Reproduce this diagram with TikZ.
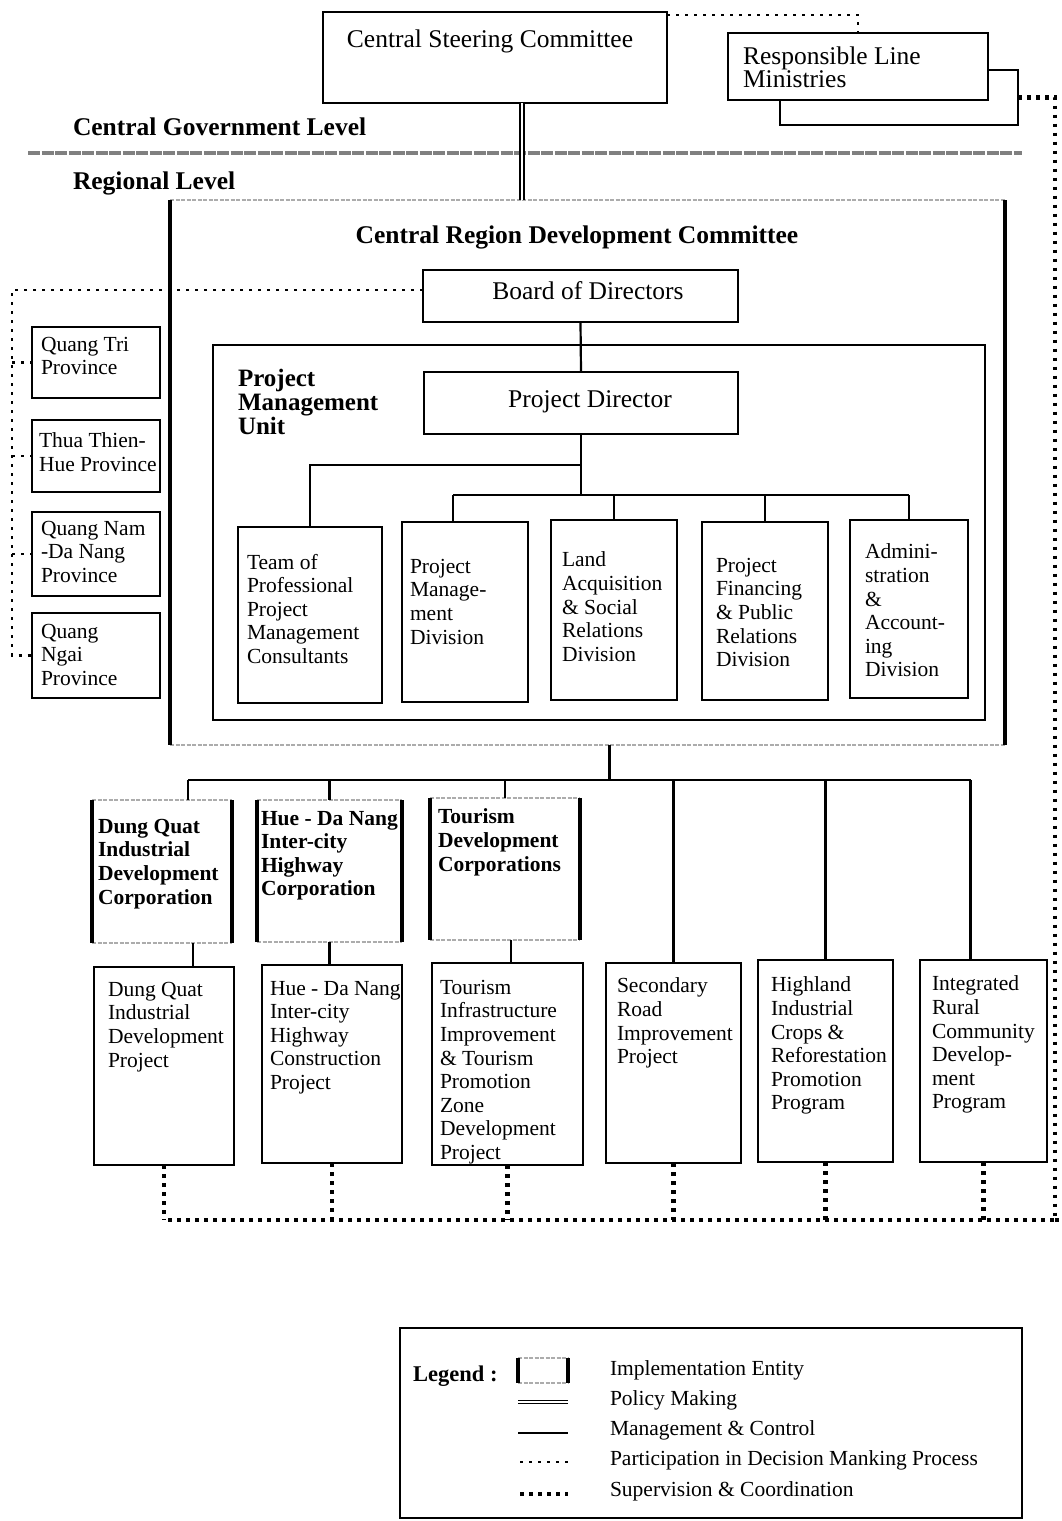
\documentclass[tikz,border=0pt]{standalone}
\usepackage{fontspec}
\setmainfont{Liberation Serif}
\newcommand{\ieframe}[1]{%
  \draw[ieedge] (#1.north west) -- (#1.north east) (#1.south west) -- (#1.south east);%
  \draw[ieside] (#1.north west) -- (#1.south west) (#1.north east) -- (#1.south east);}
\tikzset{
  boxs/.style={draw, line width=1.9pt, inner sep=0pt, outer sep=0pt, fill=white, anchor=north west},
  iebox/.style={inner sep=0pt, outer sep=0pt, anchor=north west},
  txt/.style={inner sep=0pt, outer sep=0pt, align=left, anchor=north west, font=\fontsize{21.5}{23.6}\selectfont},
  btxt/.style={inner sep=0pt, outer sep=0pt, align=left, anchor=north west, font=\fontsize{21.5}{23.6}\selectfont\bfseries},
  ltxt/.style={inner sep=0pt, outer sep=0pt, anchor=west, font=\fontsize{21.5}{24}\selectfont},
  hd/.style={inner sep=0pt, outer sep=0pt, font=\fontsize{25.5}{28}\selectfont},
  bhd/.style={inner sep=0pt, outer sep=0pt, font=\fontsize{25.5}{28}\selectfont\bfseries},
  mgmt/.style={line width=2.2pt},
  policy/.style={double, line width=1.6pt, double distance=2.5pt},
  partic/.style={line width=2.6pt, dash pattern=on 3pt off 6pt},
  superv/.style={line width=4.5pt, dash pattern=on 3.5pt off 5.5pt},
  ieside/.style={line width=4pt},
  ieedge/.style={draw=gray!65, line width=2pt, dash pattern=on 4pt off 1.5pt},
  sepline/.style={draw=black!50, line width=4pt, dash pattern=on 12pt off 1.5pt},
}
\begin{document}
\begin{tikzpicture}[x=1pt,y=-1pt]
\useasboundingbox (0,0) rectangle (1061,1521);

% ---- level separator
\draw[sepline] (28,153) -- (1022,153);
\node[bhd, anchor=west] (cgl) at (73,127) {Central Government Level};
\node[bhd, anchor=west] (rl) at (73,183) {Regional Level};

% ---- top
\node[boxs, minimum width=344pt, minimum height=91pt] (csc) at (323,12) {};
\node[hd] (csct) at (490,41) {Central Steering Committee};
\node[boxs, minimum width=238pt, minimum height=55pt] (rlmsh) at (780,70) {};
\node[boxs, minimum width=260pt, minimum height=67pt] (rlm) at (728,33) {};
\node[txt, font=\fontsize{25.5}{23}\selectfont] (rlmt) at (743,47) {Responsible Line\\Ministries};

% ---- CRDC
\node[iebox, minimum width=835pt, minimum height=545pt] (crdc) at (170,200) {};
\ieframe{crdc}
\node[bhd] (crdct) at (577,237) {Central Region Development Committee};
\coordinate (pol) at (522,200);
\draw[policy] (csc.south -| pol) -- (pol);

\node[boxs, minimum width=315pt, minimum height=52pt] (bod) at (423,270) {};
\node[hd] (bodt) at (588,291) {Board of Directors};

% ---- PMU
\node[draw, line width=2.6pt, inner sep=0pt, outer sep=0pt, anchor=north west, minimum width=772pt, minimum height=375pt] (pmu) at (213,345) {};
\node[btxt, font=\fontsize{25}{24}\selectfont\bfseries] (pmut) at (238,369) {Project\\Management\\Unit};
\node[boxs, minimum width=314pt, minimum height=62pt] (pd) at (424,372) {};
\node[hd] (pdt) at (590,402) {Project Director};
\draw[mgmt] (bod.south) -- (pd.north);

\node[boxs, minimum width=144pt, minimum height=176pt] (team) at (238,527) {};
\node[boxs, minimum width=126pt, minimum height=180pt] (pmd) at (402,522) {};
\node[boxs, minimum width=126pt, minimum height=180pt] (land) at (551,520) {};
\node[boxs, minimum width=126pt, minimum height=178pt] (fin) at (702,522) {};
\node[boxs, minimum width=118pt, minimum height=178pt] (adm) at (850,520) {};
\node[txt] (teamt) at (247,554) {Team of\\Professional\\Project\\Management\\Consultants};
\node[txt] (pmdt) at (410,559) {Project\\Manage-\\ment\\Division};
\node[txt] (landt) at (562,552) {Land\\Acquisition\\\& Social\\Relations\\Division};
\node[txt] (fint) at (716,558) {Project\\Financing\\\& Public\\Relations\\Division};
\node[txt] (admt) at (865,544) {Admini-\\stration\\\&\\Account-\\ing\\Division};

\coordinate (bus1) at (0,465);
\coordinate (bus2) at (0,495);
\draw[mgmt] (pd.south) -- (pd.south |- bus2);
\draw[mgmt] (team.north) |- (pd.south |- bus1);
\draw[mgmt] ([xshift=-12pt]pmd.north |- bus2) -- (adm.north |- bus2);
\draw[mgmt] ([xshift=-12pt]pmd.north) -- ([xshift=-12pt]pmd.north |- bus2);
\draw[mgmt] (land.north) -- (land.north |- bus2);
\draw[mgmt] (fin.north) -- (fin.north |- bus2);
\draw[mgmt] (adm.north) -- (adm.north |- bus2);

% ---- provinces
\node[boxs, minimum width=128pt, minimum height=71pt] (qtri) at (32,327) {};
\node[boxs, minimum width=128pt, minimum height=72pt] (thua) at (32,420) {};
\node[boxs, minimum width=128pt, minimum height=84pt] (qnam) at (32,512) {};
\node[boxs, minimum width=128pt, minimum height=85pt] (qngai) at (32,613) {};
\node[txt] (qtrit) at (41,337) {Quang Tri\\Province};
\node[txt] (thuat) at (39,433) {Thua Thien-\\Hue Province};
\node[txt] (qnamt) at (41,521) {Quang Nam\\-Da Nang\\Province};
\node[txt] (qngait) at (41,624) {Quang\\Ngai\\Province};
\coordinate (pl) at (12,290);
\draw[partic] ([yshift=6pt]bod.west) -- (pl) |- (qngai.west);
\draw[partic] (pl |- qtri.west) -- (qtri.west);
\draw[partic] (pl |- thua.west) -- (thua.west);
\draw[partic] (pl |- qnam.west) -- (qnam.west);

% ---- corporations
\node[iebox, minimum width=140pt, minimum height=143pt] (dqc) at (92,800) {};
\node[iebox, minimum width=145pt, minimum height=142pt] (hdc) at (257,800) {};
\node[iebox, minimum width=150pt, minimum height=142pt] (tdc) at (430,798) {};
\ieframe{dqc}\ieframe{hdc}\ieframe{tdc}
\node[btxt] (dqct) at (98,819) {Dung Quat\\Industrial\\Development\\Corporation};
\node[btxt] (hdct) at (261,811) {Hue - Da Nang\\Inter-city\\Highway\\Corporation};
\node[btxt] (tdct) at (438,809) {Tourism\\Development\\Corporations};

% ---- projects
\node[boxs, minimum width=140pt, minimum height=198pt] (dqp) at (94,967) {};
\node[boxs, minimum width=140pt, minimum height=198pt] (hdp) at (262,965) {};
\node[boxs, minimum width=151pt, minimum height=202pt] (tp) at (432,963) {};
\node[boxs, minimum width=135pt, minimum height=200pt] (srp) at (606,963) {};
\node[boxs, minimum width=135pt, minimum height=202pt] (hip) at (758,960) {};
\node[boxs, minimum width=127pt, minimum height=202pt] (irp) at (920,960) {};
\node[txt] (dqpt) at (108,982) {Dung Quat\\Industrial\\Development\\Project};
\node[txt] (hdpt) at (270,981) {Hue - Da Nang\\Inter-city\\Highway\\Construction\\Project};
\node[txt] (tpt) at (440,980) {Tourism\\Infrastructure\\Improvement\\\& Tourism\\Promotion\\Zone\\Development\\Project};
\node[txt] (srpt) at (617,978) {Secondary\\Road\\Improvement\\Project};
\node[txt] (hipt) at (771,977) {Highland\\Industrial\\Crops \&\\Reforestation\\Promotion\\Program};
\node[txt] (irpt) at (932,976) {Integrated\\Rural\\Community\\Develop-\\ment\\Program};

\coordinate (bus3) at (0,780);
\draw[mgmt] ([xshift=22pt]crdc.south) -- ([xshift=22pt]crdc.south |- bus3);
\draw[mgmt] ([xshift=26pt]dqc.north |- bus3) -- ([xshift=-13pt]irp.north |- bus3);
\draw[mgmt] ([xshift=26pt]dqc.north |- bus3) -- ([xshift=26pt]dqc.north);
\draw[mgmt] (hdc.north |- bus3) -- (hdc.north);
\draw[mgmt] (tdc.north |- bus3) -- (tdc.north);
\draw[mgmt] (srp.north |- bus3) -- (srp.north);
\draw[mgmt] (hip.north |- bus3) -- (hip.north);
\draw[mgmt] ([xshift=-13pt]irp.north |- bus3) -- ([xshift=-13pt]irp.north);
\draw[mgmt] ([xshift=31pt]dqc.south) -- ([xshift=31pt]dqc.south |- dqp.north);
\draw[mgmt] (hdc.south) -- (hdc.south |- hdp.north);
\draw[mgmt] ([xshift=6pt]tdc.south) -- ([xshift=6pt]tdc.south |- tp.north);

% ---- coordination links
\draw[partic] ([yshift=-3pt]csc.north east) -| (rlm.north);
\coordinate (sbr) at (1055,1220);
\coordinate (sbl) at (166,1220);
\draw[superv] (rlmsh.east) -| (sbr) -- (sbl);
\draw[superv] (sbr) -- (1061,1220);
\foreach \p in {dqp,hdp,tp,srp,hip,irp}{
  \draw[superv] (\p.south) -- (\p.south |- sbl);
}

% ---- legend
\node[boxs, minimum width=622pt, minimum height=190pt] (leg) at (400,1328) {};
\node[inner sep=0pt, anchor=west, font=\fontsize{22.5}{24}\selectfont\bfseries] (legt) at (413,1376) {Legend :};
\node[iebox, minimum width=50pt, minimum height=25pt] (legie) at (518,1358) {};
\ieframe{legie}
\coordinate (l2a) at (518,1402); \coordinate (l2b) at (568,1402);
\coordinate (l3a) at (518,1433); \coordinate (l3b) at (568,1433);
\coordinate (l4a) at (520,1462); \coordinate (l4b) at (568,1462);
\coordinate (l5a) at (520,1494); \coordinate (l5b) at (568,1494);
\draw[policy, line width=1.2pt, double distance=2pt] (l2a) -- (l2b);
\draw[mgmt, line width=2.6pt] (l3a) -- (l3b);
\draw[partic] (l4a) -- (l4b);
\draw[superv] (l5a) -- (l5b);
\node[ltxt] (lg1) at (610,1370) {Implementation Entity};
\node[ltxt] (lg2) at (610,1400) {Policy Making};
\node[ltxt] (lg3) at (610,1430) {Management \& Control};
\node[ltxt] (lg4) at (610,1460) {Participation in Decision Manking Process};
\node[ltxt] (lg5) at (610,1491) {Supervision \& Coordination};
\end{tikzpicture}
\end{document}
